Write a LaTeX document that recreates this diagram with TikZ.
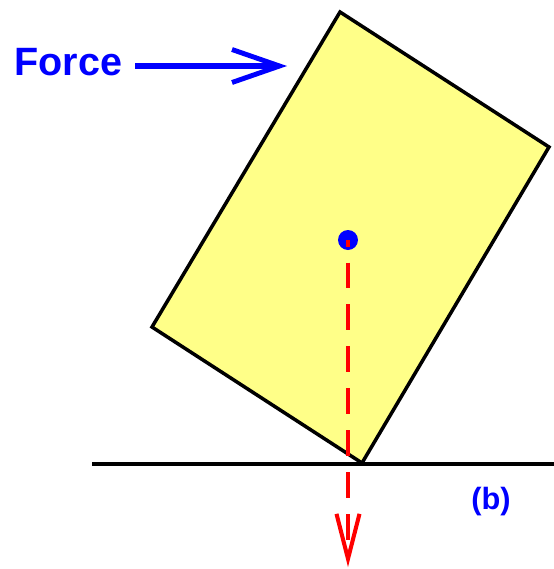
\documentclass[tikz,border=0pt]{standalone}
\usepackage{fontspec}
\setmainfont{Liberation Sans}
\usetikzlibrary{arrows.meta}
\definecolor{BlkYellow}{RGB}{255,255,136}
\definecolor{FBlue}{RGB}{0,0,255}
\definecolor{WRed}{RGB}{255,0,0}

\begin{document}
\begin{tikzpicture}[x=0.02cm, y=-0.02cm,
          block/.style={draw=black, fill=BlkYellow, line width=2pt},
          lbl/.style={text=FBlue, inner sep=0pt},
          forcearr/.style={FBlue, line width=3.2pt,
                           -{Straight Barb[length=0.95cm, width=0.66cm, line width=2.8pt]}},
          weightarr/.style={WRed, line width=2.3pt,
                            dash pattern=on 0.52cm off 0.32cm, dash phase=0.39cm,
                            -{Straight Barb[length=0.9cm, width=0.46cm, line width=2.3pt]}}
        ]
        \useasboundingbox (0,0) rectangle (554,569);

        % Ground
        \coordinate (gl) at (92,464);
        \coordinate (gr) at (554,464);
        \draw[line width=2pt] (gl) -- (gr);

        % Block
        \coordinate (ctop)   at (340,12);
        \coordinate (cright) at (549,147);
        \coordinate (cbot)   at (362,463);
        \coordinate (cleft)  at (152,327);
        \draw[block] (ctop) -- (cright) -- (cbot) -- (cleft) -- cycle;

        % Centre of mass and its weight line
        \node[circle, fill=FBlue, inner sep=0pt, minimum size=0.4cm] (cm) at (348,240) {};
        \coordinate (wtip) at (348,567);
        \draw[weightarr] (cm.center) -- (wtip);

        % Force
        \node[lbl, font=\bfseries\fontsize{22.5}{27}\selectfont, anchor=base west]
              (force) at (14,75) {Force};
        \coordinate (push) at (287,66);
        \draw[forcearr] (force.east |- push) ++(13,0) -- (push);

        % Label
        \node[lbl, font=\bfseries\fontsize{17.5}{21}\selectfont] (tag) at (491,502) {(b)};
      \end{tikzpicture}
\end{document}
